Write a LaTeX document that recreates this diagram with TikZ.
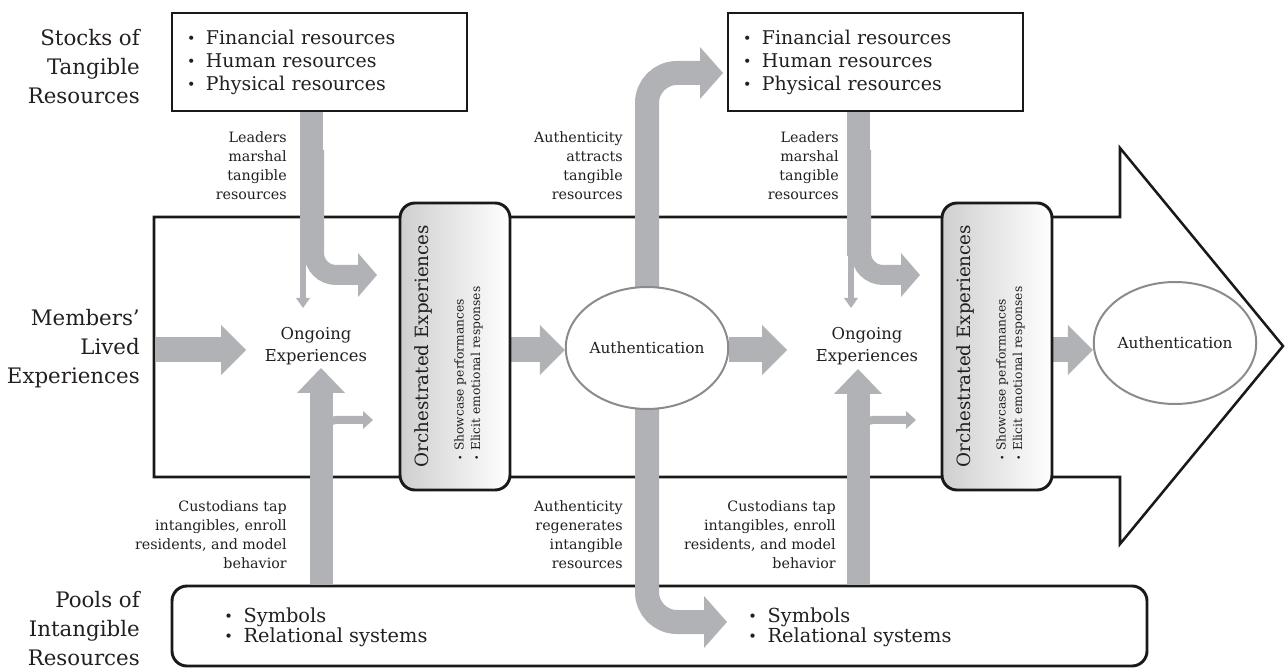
\documentclass[tikz,border=0pt]{standalone}
\usepackage{fontspec}
\setmainfont{DejaVu Serif}
\usepackage{graphicx}
\usetikzlibrary{arrows.meta,shapes.geometric,calc}
\definecolor{flowgray}{RGB}{177,178,182}
\definecolor{ringgray}{RGB}{138,139,141}
\definecolor{ink}{RGB}{35,31,32}
\pgfdeclarelayer{back}
\pgfdeclarelayer{flow}
\pgfsetlayers{back,flow,main}
\newcommand{\bul}{\makebox[1em][l]{\raisebox{0.1ex}{\scalebox{0.75}{\textbullet}}}}
\newcommand{\sbul}{\makebox[0.8em][l]{\scalebox{0.75}{\textbullet}}}

\begin{document}
\begin{tikzpicture}[x=0.75pt,y=-0.75pt,
  txt/.style={text=ink, inner sep=0pt},
  side/.style={txt, anchor=east, align=right, font=\fontsize{16pt}{21.75pt}\selectfont},
  note/.style={txt, anchor=east, align=right, font=\fontsize{10.7pt}{14.25pt}\selectfont},
  frame/.style={draw=black!90, line width=1.9pt, line join=miter},
  resbox/.style={draw=black!90, line width=2.2pt, fill=white, minimum width=221.25pt,
    minimum height=73.5pt, inner xsep=11.25pt, inner ysep=0pt, text width=198.75pt,
    align=left, text=ink, font=\fontsize{14.2pt}{17.25pt}\selectfont},
  poolbox/.style={draw=black!90, line width=2.2pt, rounded corners=11.25pt, fill=white,
    minimum width=731.25pt, minimum height=60pt, inner sep=0pt},
  pooltext/.style={txt, anchor=west, align=left, font=\fontsize{14.5pt}{15pt}\selectfont},
  orchbox/.style={draw=black!90, line width=2.2pt, rounded corners=11.25pt,
    left color=black!19, right color=white, minimum width=82.5pt,
    minimum height=215.25pt, inner sep=0pt},
  orchtitle/.style={txt, rotate=90, font=\fontsize{13.7pt}{16pt}\selectfont},
  orchlist/.style={txt, rotate=90, anchor=west, align=left, font=\fontsize{9.2pt}{12.5pt}\selectfont},
  ongoing/.style={txt, align=center, font=\fontsize{12.3pt}{16.5pt}\selectfont},
  authring/.style={ellipse, draw=ringgray, line width=1.5pt, fill=white,
    minimum width=97.5pt, minimum height=91.5pt, inner sep=0pt, text=ink,
    font=\fontsize{11.5pt}{13pt}\selectfont},
  flowline/.style={draw=flowgray, line cap=butt},
  wide/.style={flowline, line width=18.75pt,
    -{Triangle[length=18.75pt,width=37.5pt,line width=0pt]}},
  stem/.style={flowline, line width=17.25pt},
  bendin/.style={flowline, line width=15pt, rounded corners=16.5pt,
    -{Triangle[length=14.25pt,width=33pt,line width=0pt]}},
  thin/.style={flowline, line width=4.5pt,
    -{Triangle[length=7.5pt,width=10.5pt,line width=0pt]}},
  rise/.style={flowline, line width=17.25pt,
    -{Triangle[length=18.75pt,width=36pt,line width=0pt]}},
  twig/.style={flowline, line width=6pt, rounded corners=7.5pt,
    -{Triangle[length=7.5pt,width=13.5pt,line width=0pt]}},
  loop/.style={flowline, line width=18pt, rounded corners=22.5pt,
    -{Triangle[length=17.25pt,width=39pt,line width=0pt]}}
]
\useasboundingbox (0,0) rectangle (1286,670);

% ---------- the large process arrow and the pool of intangibles ----------
\begin{pgfonlayer}{back}
  \draw[frame] (154,217) -- (1120,217) -- (1120,148) -- (1283,346)
    -- (1120,544) -- (1120,477) -- (154,477) -- cycle;
  \node[poolbox] (pool) at (659.5,626) {};
\end{pgfonlayer}

% ---------- row labels ----------
\node[side] (lblstocks) at (140,67) {Stocks of\\Tangible\\Resources};
\node[side] (lbllived) at (140,349) {Members’\\Lived\\Experiences};
\node[side] (lblpools) at (140,629) {Pools of\\Intangible\\Resources};

% ---------- tangible resource stocks ----------
\node[resbox] (tb1) at (319.5,62) {\bul Financial resources\\\bul Human resources\\\bul Physical resources};
\node[resbox] (tb2) at (875.5,62) {\bul Financial resources\\\bul Human resources\\\bul Physical resources};

% ---------- intangible resource pools ----------
\node[pooltext] (pt1) at (224,627) {\bul Symbols\\\bul Relational systems};
\node[pooltext] (pt2) at (748,627) {\bul Symbols\\\bul Relational systems};

% ---------- orchestrated experiences ----------
\node[orchbox] (ob1) at (455,346.5) {};
\node[orchtitle] (ot1) at (423,346) {Orchestrated Experiences};
\node[orchlist] (ol1) at (468.5,461) {\sbul Showcase performances\\\sbul Elicit emotional responses};
\node[orchbox] (ob2) at (997,346.5) {};
\node[orchtitle] (ot2) at (965,346) {Orchestrated Experiences};
\node[orchlist] (ol2) at (1010.5,461) {\sbul Showcase performances\\\sbul Elicit emotional responses};

% ---------- ongoing experiences and authentication ----------
\node[ongoing] (og1) at (316,346) {Ongoing\\Experiences};
\node[ongoing] (og2) at (867,346) {Ongoing\\Experiences};
\node[authring] (au1) at (647,348) {Authentication};
\node[authring, minimum width=99pt] (au2) at (1175,343) {Authentication};

% ---------- flow annotations ----------
\node[note] (n1) at (287,165.5) {Leaders\\marshal\\tangible\\resources};
\node[note] (n2) at (623,165.5) {Authenticity\\attracts\\tangible\\resources};
\node[note] (n3) at (839,165.5) {Leaders\\marshal\\tangible\\resources};
\node[note] (n4) at (287,535) {Custodians tap\\intangibles, enroll\\residents, and model\\behavior};
\node[note] (n5) at (623,535) {Authenticity\\regenerates\\intangible\\resources};
\node[note] (n6) at (836,535) {Custodians tap\\intangibles, enroll\\residents, and model\\behavior};

% ---------- anchor points of the gray flows ----------
\coordinate (lane) at (0,350);
\coordinate (entry) at (156,350);
\coordinate (entrytip) at (246,350);
\coordinate (auout) at (787,350);
\coordinate (s1foot) at (311.5,256);
\coordinate (s1bend) at (314,150);
\coordinate (s1tip) at (377,275);
\coordinate (s1thin) at (303,240);
\coordinate (s1thintip) at (303,308);
\coordinate (s2foot) at (858,256);
\coordinate (s2bend) at (861,150);
\coordinate (s2tip) at (920,275);
\coordinate (s2thin) at (851,240);
\coordinate (s2thintip) at (851,308);
\coordinate (r1base) at (321,584.5);
\coordinate (r1tip) at (321,368);
\coordinate (r1twig) at (326,450);
\coordinate (r1twigtip) at (373,420);
\coordinate (r2base) at (858,584.5);
\coordinate (r2tip) at (858,369);
\coordinate (r2twig) at (863,450);
\coordinate (r2twigtip) at (916,420);
\coordinate (attract) at (723,73);
\coordinate (regen) at (727,622);

% ---------- gray flows ----------
\begin{pgfonlayer}{flow}
  % members' experiences enter, and orchestration leads to authentication
  \draw[wide] (entry) -- (entrytip);
  \draw[wide] (ob1.east |- lane) -- (au1.west |- lane);
  \draw[wide] (au1.east |- lane) -- (auout);
  \draw[wide] (ob2.east |- lane) -- (au2.west |- lane);
  % leaders marshal tangible resources
  \draw[stem] (tb1.south -| s1foot) -- (s1foot);
  \draw[bendin] (s1bend) |- (s1tip);
  \draw[thin] (s1thin) -- (s1thintip);
  \draw[stem] (tb2.south -| s2foot) -- (s2foot);
  \draw[bendin] (s2bend) |- (s2tip);
  \draw[thin] (s2thin) -- (s2thintip);
  % custodians tap intangibles
  \draw[rise] (r1base) -- (r1tip);
  \draw[twig] (r1twig) |- (r1twigtip);
  \draw[rise] (r2base) -- (r2tip);
  \draw[twig] (r2twig) |- (r2twigtip);
  % authenticity attracts and regenerates resources
  \draw[loop] (au1.center) |- (attract);
  \draw[loop] (au1.center) |- (regen);
\end{pgfonlayer}
\end{tikzpicture}
\end{document}
